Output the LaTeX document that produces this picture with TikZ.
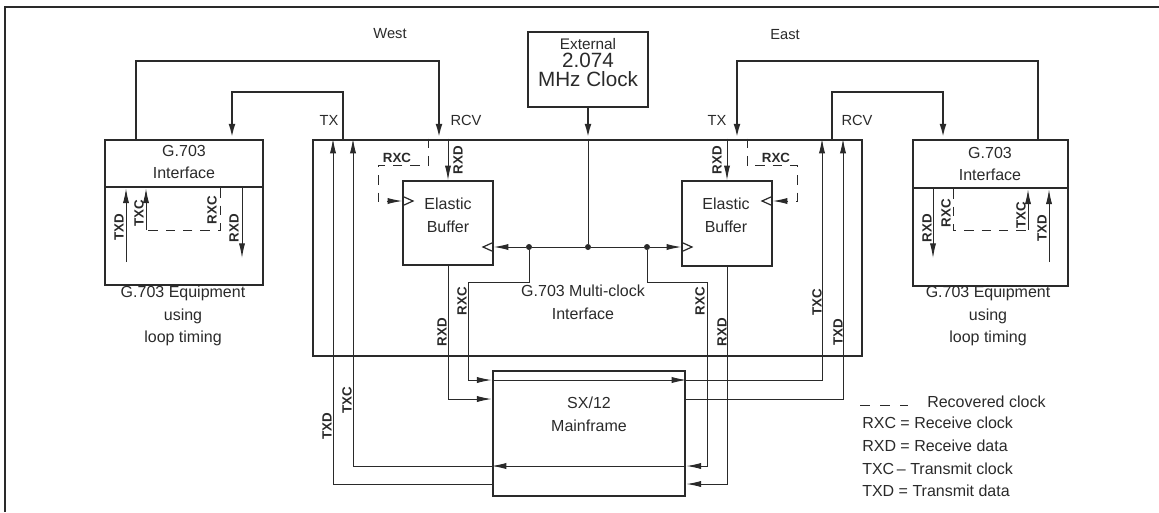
\documentclass[tikz,border=0pt]{standalone}
\usepackage{fontspec}
\setmainfont{Liberation Sans}
\usetikzlibrary{arrows.meta,positioning,fit,calc}
\definecolor{ink}{HTML}{2A2A2A}

\begin{document}
\begin{tikzpicture}[x=0.75pt, y=-0.75pt, color=ink,
    frame/.style={draw, line width=2.1pt, inner sep=0pt},
    bufbox/.style={draw, line width=1.1pt, inner sep=0pt},
    link/.style={line width=1.8pt, -{Latex[length=11pt,width=5pt]}},
    sig/.style={line width=0.75pt, -{Latex[length=11pt,width=4.6pt]}},
    recclk/.style={line width=0.75pt, dash pattern=on 7pt off 6pt},
    lab/.style={font=\fontsize{12}{17}\selectfont, align=center},
    small/.style={font=\fontsize{11}{13}\selectfont},
    wireh/.style={font=\fontsize{10}{10}\selectfont\bfseries, inner sep=0pt},
    wire/.style={wireh, rotate=90},
    dot/.style={circle, fill, inner sep=0pt, minimum size=4.5pt}]

    \useasboundingbox (0,0) rectangle (1159,512);

    %% page frame
    \draw[line width=1.4pt] (5,512) -- (5,7) -- (1159,7);

    %% boxes
    \node[frame, fit={(105,140) (263,285)}] (gw) {};
    \node[frame, fit={(105,140) (263,187)}] (gwhead) {};
    \node[frame, fit={(913,140) (1068,286)}] (ge) {};
    \node[frame, fit={(913,140) (1068,188)}] (gehead) {};
    \node[frame, fit={(313,140) (862,356)}] (mc) {};
    \node[frame, fit={(528,32) (648,107)}] (clk) {};
    \node[frame, fit={(493,371) (685,496)}] (sx) {};
    \node[bufbox, fit={(403,181) (493,265)}] (ebw) {};
    \node[bufbox, fit={(682,181) (772,266)}] (ebe) {};

    %% box texts
    \node[lab] (gwname) at (184,162) {G.703\\Interface};
    \node[lab] (gename) at (990,164) {G.703\\Interface};
    \node[lab] (gweq) at (183,316) {G.703 Equipment\\using\\loop timing};
    \node[lab] (geeq) at (988,316) {G.703 Equipment\\using\\loop timing};
    \node[lab] (mcname) at (583,302) {G.703 Multi-clock\\Interface};
    \node[lab] (ebwname) at (448,215) {Elastic\\Buffer};
    \node[lab] (ebename) at (726,215) {Elastic\\Buffer};
    \node[lab] (sxname) at (589,414) {SX/12\\Mainframe};
    \node[font=\fontsize{11.5}{12}\selectfont, inner sep=0pt] (clkext) at (588,44) {External};
    \node[font=\fontsize{15.5}{16}\selectfont, inner sep=0pt, below=2.5pt of clkext] (clkfreq) {2.074};
    \node[font=\fontsize{15.5}{16}\selectfont, inner sep=0pt, below=2.5pt of clkfreq] (clkunit) {MHz Clock};

    \node[small] (west) at (390,34) {West};
    \node[small] (east) at (785,35) {East};
    \node[small] (wtx) at (329,120) {TX};
    \node[small] (wrcv) at (466,120) {RCV};
    \node[small] (etx) at (717,120) {TX};
    \node[small] (ercv) at (857,120) {RCV};

    %% line loops West / East
    \draw[link] (136,0 |- gw.north) |- (439,61) -- (439,0 |- mc.north);
    \draw[link] (343,0 |- mc.north) |- (232,92) -- (232,0 |- gw.north);
    \draw[link] (1038,0 |- ge.north) |- (737,61) -- (737,0 |- mc.north);
    \draw[link] (832,0 |- mc.north) |- (943,92) -- (943,0 |- ge.north);

    %% external clock feed
    \draw[link] (clk) -- (clk |- mc.north);
    \node[dot] (hub) at (588,247) {};
    \node[dot] (hw) at (529,247) {};
    \node[dot] (he) at (647,247) {};
    \draw[line width=0.75pt] (clk |- mc.north) -- (hub);
    \draw[sig] (hub) -- (hw) -- (ebw.east |- hw);
    \draw[sig] (hub) -- (he) -- (ebe.west |- he);

    %% clock inputs of the buffers
    \foreach \bx/\by/\dx in {403/201/10, 493/247/-10, 682/247/10, 772/201/-10}
      \draw[line width=0.9pt] (\bx,\by-4.5) -- (\bx+\dx,\by) -- (\bx,\by+4.5);

    %% recovered clocks and receive data
    \draw[recclk, -{Latex[length=11pt,width=4.6pt]}]
      (428,0 |- mc.north) |- (378,165) |- (ebw.west |- 0,201);
    \draw[recclk, -{Latex[length=11pt,width=4.6pt]}]
      (747,0 |- mc.north) |- (797,165) |- (ebe.east |- 0,201);
    \node[wireh] (wrxc) at (397,158) {RXC};
    \node[wireh] (erxc) at (776,158) {RXC};
    \draw[sig] (ebw.north |- mc.north) -- (ebw.north);
    \draw[sig] (ebe.north |- mc.north) -- (ebe.north);

    %% to and from the mainframe
    \draw[sig] (hw) |- (468,282) |- (sx.west |- 0,380);
    \draw[sig] (ebw.south) |- (sx.west |- 0,399);
    \draw[sig] (sx.west |- 0,380) -- (sx.east |- 0,380);
    \draw[sig] (sx.east |- 0,380) -| (822,0 |- mc.north);
    \draw[sig] (sx.east |- 0,399) -| (843,0 |- mc.north);
    \draw[sig] (he) |- (707,282) |- (sx.east |- 0,466);
    \draw[sig] (ebe.south) |- (sx.east |- 0,484);
    \draw[sig] (sx.east |- 0,466) -- (sx.west |- 0,466);
    \draw[sig] (sx.west |- 0,466) -| (353,0 |- mc.north);
    \draw[sig] (sx.west |- 0,484) -| (333,0 |- mc.north);

    %% inside the G.703 equipment
    \coordinate (gwtxd) at (126,262);
    \coordinate (gwtxc) at (146,230);
    \coordinate (gwrxc) at (220,230);
    \coordinate (gwrxd) at (242,258);
    \draw[sig] (gwtxd) -- (gwtxd |- gwhead.south);
    \draw[sig] (gwtxc) -- (gwtxc |- gwhead.south);
    \draw[recclk] (gwrxc |- gwhead.south) -- (gwrxc) -- (gwtxc);
    \draw[sig] (gwrxd |- gwhead.south) -- (gwrxd);

    \coordinate (gerxd) at (933,258);
    \coordinate (gerxc) at (953,230);
    \coordinate (getxc) at (1028,230);
    \coordinate (getxd) at (1049,262);
    \draw[sig] (gerxd |- gehead.south) -- (gerxd);
    \draw[recclk] (gerxc |- gehead.south) -- (gerxc) -- (getxc);
    \draw[sig] (getxc) -- (getxc |- gehead.south);
    \draw[sig] (getxd) -- (getxd |- gehead.south);

    %% signal names
    \foreach \wx/\wy/\wt [count=\k] in {119/227/TXD, 139/213/TXC, 212/210/RXC, 234/228/RXD,
        927/228/RXD, 946/213/RXC, 1021/215/TXC, 1042/228/TXD,
        458/160/RXD, 717/160/RXD, 462/301/RXC, 442/332/RXD,
        700/301/RXC, 722/332/RXD, 817/302/TXC, 838/332/TXD,
        347/400/TXC, 327/426/TXD}
      \node[wire] (sig\k) at (\wx,\wy) {\wt};

    %% legend
    \coordinate (lega) at (860,405);
    \coordinate (legb) at (908,405);
    \draw[recclk, dash pattern=on 7.5pt off 7.5pt] (lega) -- (legb);
    \node[lab, anchor=west, inner sep=0pt] (legrec) at (927,402) {Recovered clock};
    \node[lab, anchor=north west, align=left, inner sep=0pt] (legend) at (862,417)
      {RXC = Receive clock\\RXD = Receive data\\TXC\,-- Transmit clock\\TXD = Transmit data};

\end{tikzpicture}
\end{document}
